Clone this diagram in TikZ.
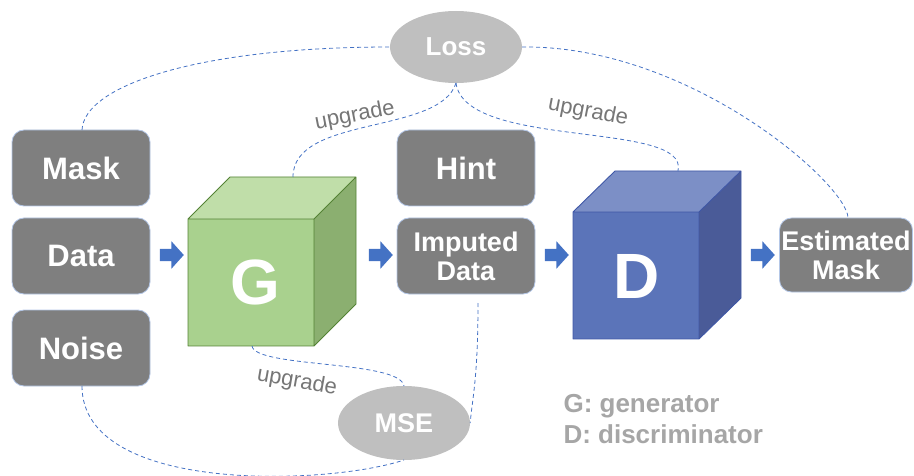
\documentclass[tikz,border=0pt]{standalone}
\usepackage{fontspec}
\setmainfont{Liberation Sans}
\usetikzlibrary{shapes.geometric,shapes.arrows}

\definecolor{boxgray}{HTML}{7F7F7F}
\definecolor{boxedge}{HTML}{B4C7E7}
\definecolor{ovalgray}{HTML}{BFBFBF}
\definecolor{flowblue}{HTML}{4472C4}
\definecolor{labelgray}{HTML}{767676}
\definecolor{legendgray}{HTML}{A6A6A6}
\definecolor{gfront}{HTML}{A9D18E}
\definecolor{gtopc}{HTML}{C0DEA9}
\definecolor{gside}{HTML}{8BAF70}
\definecolor{gedge}{HTML}{548235}
\definecolor{dfront}{HTML}{5B74B9}
\definecolor{dtopc}{HTML}{7C8FC6}
\definecolor{dside}{HTML}{4A5B98}
\definecolor{dedge}{HTML}{3F57A6}

\newcommand{\fs}[1]{\fontsize{#1}{#1}\selectfont}

\tikzset{
  inbox/.style={rectangle, rounded corners=12pt, fill=boxgray, draw=boxedge,
    line width=0.8pt, minimum width=138pt, minimum height=76pt, inner sep=0pt,
    text=white, font=\fs{31}\bfseries, align=center},
  smallbox/.style={inbox, font=\fs{27}\bfseries},
  oval/.style={ellipse, fill=ovalgray, minimum width=132pt, minimum height=72pt,
    inner sep=0pt, text=white, font=\fs{26}\bfseries},
  flow/.style={single arrow, fill=flowblue, minimum height=24pt,
    inner xsep=0pt, inner ysep=6pt, single arrow head extend=7.5pt,
    single arrow tip angle=96},
  link/.style={draw=flowblue, line width=0.8pt, dash pattern=on 4pt off 3pt},
  uplabel/.style={text=labelgray, font=\fs{22}},
  legend/.style={anchor=base west, text=legendgray, font=\fs{26}\bfseries},
  bigletter/.style={text=white, font=\fs{64}\bfseries}
}

\begin{document}
\begin{tikzpicture}[x={(1pt,0pt)}, y={(0pt,-1pt)}]
\useasboundingbox (0,0) rectangle (914,476);

% input and output boxes
\node[inbox] (mask)  at (81,168) {Mask};
\node[inbox] (data)  at (81,256) {Data};
\node[inbox] (noise) at (81,348) {Noise};
\node[inbox] (hint)  at (466,168) {Hint};
\node[smallbox] (imputed) at (466,256) {Imputed\\[2pt]Data};
\node[smallbox, minimum width=133pt, minimum height=74pt] (est) at (846,255) {Estimated\\[2pt]Mask};

% generator cube
\fill[gtopc] (188,219) -- (230,177) -- (356,177) -- (314,219) -- cycle;
\fill[gside] (314,219) -- (356,177) -- (356,304) -- (314,346) -- cycle;
\fill[gfront] (188,219) rectangle (314,346);
\draw[gedge, line width=0.9pt, line join=round]
  (188,219) -- (230,177) -- (356,177) -- (356,304) -- (314,346) -- (188,346) -- cycle
  (188,219) -- (314,219) -- (356,177) (314,219) -- (314,346);
\node[bigletter] (G) at (255,282) {G};
\coordinate (gtop) at (293,177);
\coordinate (gbot) at (252,346);

% discriminator cube
\fill[dtopc] (573,212) -- (615,171) -- (741,171) -- (699,212) -- cycle;
\fill[dside] (699,212) -- (741,171) -- (741,298) -- (699,339) -- cycle;
\fill[dfront] (573,212) rectangle (699,339);
\draw[dedge, line width=0.9pt, line join=round]
  (573,212) -- (615,171) -- (741,171) -- (741,298) -- (699,339) -- (573,339) -- cycle
  (573,212) -- (699,212) -- (741,171) (699,212) -- (699,339);
\node[bigletter] (D) at (637,276) {D};
\coordinate (dtop) at (678,171);

% loss terms
\node[oval] (loss) at (456,47) {Loss};
\node[oval, minimum height=74pt, font=\fs{27}\bfseries] (mse) at (404,423) {MSE};

% data flow arrows
\node[flow] (a1) at (169,255) {};
\node[flow] (a2) at (378,255) {};
\node[flow] (a3) at (554,255) {};
\node[flow] (a4) at (760,255) {};

% dashed feedback connections
\coordinate (maskTop) at (82,130);
\coordinate (estTop) at (848,218);
\coordinate (impBot) at (478,303);
\coordinate (noiseBot) at (82,386);
\coordinate (lossBot) at (456,83);
\coordinate (mseTop) at (404,386);
\coordinate (mseBot) at (404,460);

\draw[link] (maskTop) .. controls (84,85) and (200,47) .. (loss.west);
\draw[link] (lossBot) .. controls (440,135) and (293,115) .. (gtop);
\draw[link] (lossBot) .. controls (465,150) and (690,120) .. (dtop);
\draw[link] (loss.east) .. controls (690,45) and (848,185) .. (estTop);
\draw[link] (impBot) .. controls (478,380) and (472,400) .. (mse.east);
\draw[link] (gbot) .. controls (255,368) and (400,360) .. (mseTop);
\draw[link] (noiseBot) .. controls (82,495) and (330,485) .. (mseBot);

% labels
\node[uplabel, rotate=11] (up1) at (355,116) {upgrade};
\node[uplabel, rotate=-11] (up2) at (588,112) {upgrade};
\node[uplabel, rotate=-10] (up3) at (297,382) {upgrade};

\node[legend] (lg) at (560,412) {G: generator};
\node[legend] (ld) at (560,443) {D: discriminator};
\end{tikzpicture}
\end{document}
